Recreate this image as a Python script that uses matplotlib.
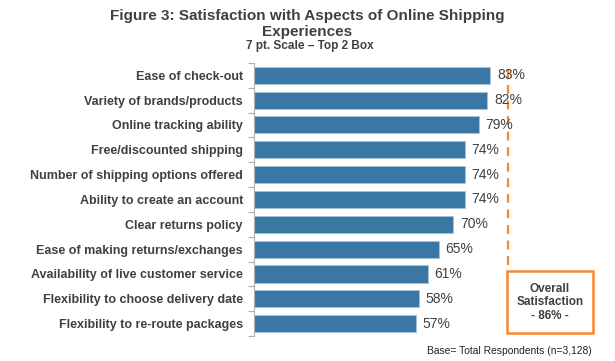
import matplotlib
matplotlib.use("Agg")
import matplotlib.pyplot as plt
from matplotlib.patches import Rectangle
import numpy as np

plt.rcParams['font.family'] = ['Liberation Sans', 'DejaVu Sans']

#--------------------------------------------------------------------------#
aspects = ["Ease of check-out", "Variety of brands/products", "Online tracking ability",
           "Free/discounted shipping", "Number of shipping options offered",
           "Ability to create an account", "Clear returns policy",
           "Ease of making returns/exchanges", "Availability of live customer service",
           "Flexibility to choose delivery date", "Flexibility to re-route packages"]
scores = [83, 82, 79, 74, 74, 74, 70, 65, 61, 58, 57]
overall = 86

bar_col = "#3a77a5"
text_col = "#404040"
orange = "#f5892f"

#--------------------------------------------------------------------------#
fig = plt.figure(figsize=(6.15, 3.61), dpi=100)
ax = fig.add_axes([0.413, 0.069, 0.463, 0.757])

y = np.arange(len(aspects))
ax.barh(y, scores, height=0.69, color=bar_col, edgecolor="#a9c3d8", linewidth=0.6)
for yi, v in zip(y, scores):
    ax.text(v + 2.3, yi, "%d%%" % v, va="center", ha="left", fontsize=10, color=text_col)

ax.set_ylim(len(aspects) - 0.5, -0.5)
ax.set_xlim(0, 100)
ax.set_yticks(y)
ax.set_yticklabels(aspects, fontsize=9, fontweight="bold", color=text_col)
ax.set_yticks(np.arange(len(aspects) + 1) - 0.5, minor=True)
ax.tick_params(axis="y", which="major", length=0, pad=8)
ax.tick_params(axis="y", which="minor", length=4, color="#b0b0b0", width=0.8)
ax.set_xticks([])
for s in ["top", "right", "bottom"]:
    ax.spines[s].set_visible(False)
ax.spines["left"].set_color("#b0b0b0")
ax.spines["left"].set_linewidth(0.8)

# overall satisfaction marker
ax.axvline(89.3, ymin=0.26, ymax=0.98, color=orange, linestyle=(0, (4, 3)), linewidth=1.6)
fig.patches.append(Rectangle((0.824, 0.078), 0.140, 0.171, transform=fig.transFigure,
                             facecolor="white", edgecolor=orange, linewidth=1.8))
fig.text(0.894, 0.163, "Overall\nSatisfaction\n- %d%% -" % overall, ha="center", va="center",
         fontsize=8.5, fontweight="bold", color=text_col, linespacing=1.15)

fig.text(0.5, 0.955, "Figure 3: Satisfaction with Aspects of Online Shipping", ha="center",
         va="center", fontsize=11, fontweight="bold", color=text_col)
fig.text(0.5, 0.912, "Experiences", ha="center", va="center", fontsize=11,
         fontweight="bold", color=text_col)
fig.text(0.503, 0.872, "7 pt. Scale \u2013 Top 2 Box", ha="center", va="center",
         fontsize=8.5, fontweight="bold", color=text_col)
fig.text(0.828, 0.027, "Base= Total Respondents (n=3,128)", ha="center", va="center",
         fontsize=7.4, color="#222222")

fig.savefig("out.png", dpi=100)
print("done")
